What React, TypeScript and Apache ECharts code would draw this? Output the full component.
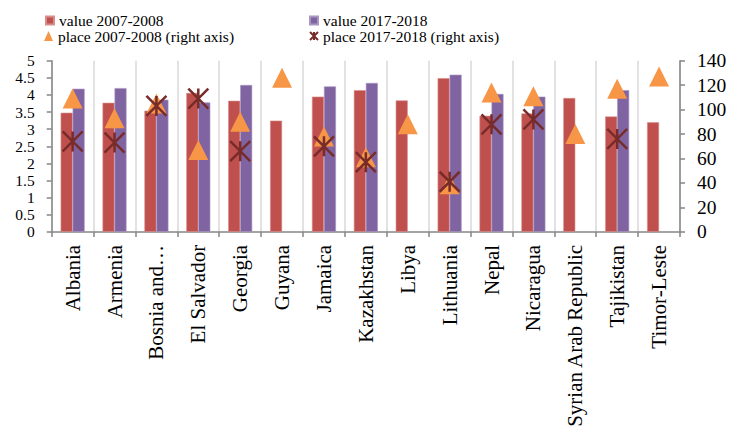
import React, { useEffect, useRef } from "react";
import * as echarts from "echarts";

const categories = [
  "Albania",
  "Armenia",
  "Bosnia and Herzegovina",
  "El Salvador",
  "Georgia",
  "Guyana",
  "Jamaica",
  "Kazakhstan",
  "Libya",
  "Lithuania",
  "Nepal",
  "Nicaragua",
  "Syrian Arab Republic",
  "Tajikistan",
  "Timor-Leste",
];

const value0708 = [3.48, 3.77, 3.54, 4.06, 3.83, 3.25, 3.95, 4.14, 3.84, 4.49, 3.39, 3.46, 3.91, 3.37, 3.2];
const value1718 = [4.18, 4.2, 3.86, 3.78, 4.29, null, 4.25, 4.35, null, 4.59, 4.03, 3.95, null, 4.14, null];
const place0708 = [109, 93, 105, 67, 90, 126, 78, 61, 88, 39, 114, 111, 80, 117, 127];
const place1718 = [74, 73, 103, 109, 66, null, 70, 57, null, 41, 88, 92, null, 76, null];

const leftTicks = { min: 0, max: 5, interval: 0.5 };
const rightTicks = { min: 0, max: 140, interval: 20 };

const seriesNames = [
  "value 2007-2008",
  "value 2017-2018",
  "place 2007-2008 (right axis)",
  "place 2017-2018 (right axis)",
];

const FONT = "'Liberation Serif', 'Times New Roman', serif";
const AXIS_GRAY = "#868686";
const STAR = "path://M0,0L20,20M20,0L0,20M10,0L10,20";

export default function App() {
  const ref = useRef<HTMLDivElement>(null);

  useEffect(() => {
    if (!ref.current) return;
    const chart = echarts.init(ref.current, null, { renderer: "svg" });
    const legendText = { fontFamily: FONT, fontSize: 15.5, color: "#000", lineHeight: 15 };
    const mkLegend = (name: string, left: number, top: number, w: number, h: number, icon?: string) => ({
      data: [name],
      left,
      top,
      padding: 0,
      itemWidth: w,
      itemHeight: h,
      icon,
      textStyle: legendText,
      selectedMode: false,
    });
    const axisLabelStyle = {
      fontFamily: FONT,
      fontSize: 15.5,
      lineHeight: 14,
      color: "#000",
      margin: 17,
      showMinLabel: true,
      showMaxLabel: true,
    };
    chart.setOption({
      animation: false,
      backgroundColor: "#fff",
      grid: { left: 51.7, right: 52, top: 60.7, bottom: 197.7, containLabel: false },
      legend: [
        mkLegend(seriesNames[0], 45, 12.5, 8, 8, "rect"),
        mkLegend(seriesNames[1], 309, 12.5, 8, 8, "rect"),
        mkLegend(seriesNames[2], 44, 28, 9, 10),
        mkLegend(seriesNames[3], 309, 28, 8, 8),
      ],
      xAxis: {
        type: "category",
        data: categories,
        boundaryGap: true,
        axisLine: { show: true, lineStyle: { color: AXIS_GRAY, width: 1.5 } },
        axisTick: { show: true, length: 5, lineStyle: { color: AXIS_GRAY, width: 1.5 } },
        splitLine: { show: true, lineStyle: { color: "#d9d9d9", width: 1.5 } },
        axisLabel: {
          interval: 0,
          rotate: 90,
          fontFamily: FONT,
          fontSize: 21,
          color: "#000",
          margin: 13,
          formatter: (v: string) => (v.length > 20 ? v.slice(0, 10) + "…" : v),
        },
      },
      yAxis: [
        {
          type: "value",
          position: "left",
          ...leftTicks,
          axisLine: { show: true, lineStyle: { color: AXIS_GRAY, width: 1.5 } },
          axisTick: { show: true, length: 5, lineStyle: { color: AXIS_GRAY, width: 1.5 } },
          splitLine: { show: false },
          axisLabel: axisLabelStyle,
        },
        {
          type: "value",
          position: "right",
          ...rightTicks,
          axisLine: { show: true, lineStyle: { color: AXIS_GRAY, width: 1.5 } },
          axisTick: { show: true, length: 5, lineStyle: { color: AXIS_GRAY, width: 1.5 } },
          splitLine: { show: false },
          axisLabel: { ...axisLabelStyle, fontSize: 19.5, lineHeight: 19 },
        },
      ],
      series: [
        {
          name: seriesNames[0],
          type: "bar",
          data: value0708,
          barWidth: 12,
          barGap: "0%",
          itemStyle: { color: "#C0504D", borderColor: "#d98d8b", borderWidth: 0.6 },
        },
        {
          name: seriesNames[1],
          type: "bar",
          data: value1718,
          barWidth: 12,
          barGap: "0%",
          itemStyle: { color: "#8064A2", borderColor: "#a996c2", borderWidth: 0.6 },
        },
        {
          name: seriesNames[2],
          type: "scatter",
          yAxisIndex: 1,
          data: place0708,
          symbol: "triangle",
          symbolSize: [20, 20],
          itemStyle: { color: "#F79646", opacity: 1 },
          z: 3,
        },
        {
          name: seriesNames[3],
          type: "scatter",
          yAxisIndex: 1,
          data: place1718,
          symbol: STAR,
          symbolSize: [20, 20],
          itemStyle: { color: "#772C2A", borderColor: "#772C2A", borderWidth: 2.5, opacity: 1 },
          z: 4,
        },
      ],
    });
    return () => chart.dispose();
  }, []);

  return (
    <div
      ref={ref}
      style={{ position: "fixed", left: 0, top: 0, width: 732, height: 431, background: "#fff" }}
    />
  );
}
